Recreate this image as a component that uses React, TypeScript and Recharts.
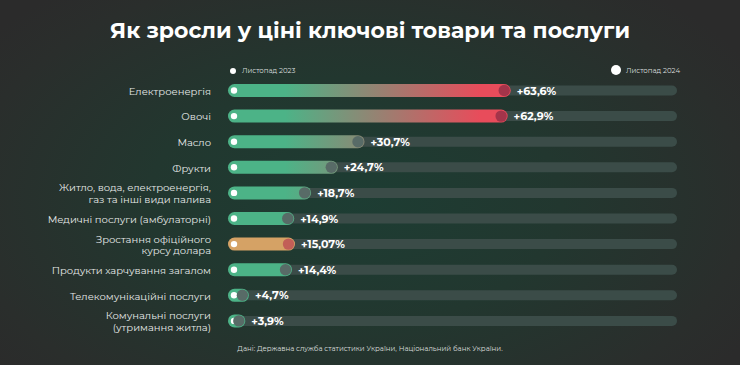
import React from "react";
import { BarChart, Bar, XAxis, YAxis, LabelList } from "recharts";

const categories = [
  "Електроенергія",
  "Овочі",
  "Масло",
  "Фрукти",
  "Житло, вода, електроенергія,\nгаз та інші види палива",
  "Медичні послуги (амбулаторні)",
  "Зростання офіційного\nкурсу долара",
  "Продукти харчування загалом",
  "Телекомунікаційні послуги",
  "Комунальні послуги\n(утримання житла)",
];

const growth = [63.6, 62.9, 30.7, 24.7, 18.7, 14.9, 15.07, 14.4, 4.7, 3.9];

const barKinds = ["heat", "heat", "heat", "heat", "heat", "heat", "usd", "heat", "heat", "heat"];

const legendLabels = ["Листопад 2023", "Листопад 2024"];

const title = "Як зросли у ціні ключові товари та послуги";
const source = "Дані: Державна служба статистики України, Національний банк України.";

const data = categories.map((name, i) => ({
  name,
  value: growth[i],
  kind: barKinds[i],
}));

const FONT = "Montserrat, 'Open Sans', 'Noto Sans', sans-serif";

const fmt = (v: number) => "+" + String(v).replace(".", ",") + "%";

function CategoryTick(props: any) {
  const { x, y, payload } = props;
  const lines = String(payload.value).split("\n");
  const lh = 11.5;
  const y0 = y - ((lines.length - 1) * lh) / 2;
  return (
    <text
      x={x - 9}
      y={y0}
      textAnchor="end"
      fill="#e6e9e8"
      fontSize={10}
      fontFamily={FONT}
      dominantBaseline="central"
    >
      {lines.map((l, i) => (
        <tspan key={i} x={x - 9} y={y0 + i * lh}>
          {l}
        </tspan>
      ))}
    </text>
  );
}

function TrackShape(props: any) {
  const { x, y, width, height } = props;
  const h = 10;
  const cy = y + height / 2;
  return <rect x={x} y={cy - h / 2} width={width} height={h} rx={h / 2} fill="#3b4c48" />;
}

function GrowthBar(props: any) {
  const { x, y, width, height, payload } = props;
  const usd = payload.kind === "usd";
  const cy = y + height / 2;
  const r = height / 2;
  const endX = x + width - r;
  const endFill = usd ? "#c25e57" : payload.value > 50 ? "#a3344a" : "#586b67";
  return (
    <g>
      <rect
        x={x}
        y={y}
        width={width}
        height={height}
        rx={r}
        fill={usd ? "#d5a265" : "url(#heatGrad)"}
      />
      <circle cx={x + 6} cy={cy} r={3.2} fill="#ffffff" />
      <circle cx={endX} cy={cy} r={r - 0.8} fill={endFill} />
    </g>
  );
}

function ValueLabel(props: any) {
  const { x, y, width, height, value } = props;
  return (
    <text
      x={x + width + 6}
      y={y + height / 2}
      fill="#ffffff"
      fontSize={11}
      fontWeight={700}
      fontFamily={FONT}
      dominantBaseline="central"
    >
      {fmt(value)}
    </text>
  );
}

export default function App() {
  return (
    <div
      style={{
        position: "relative",
        width: 740,
        height: 365,
        overflow: "hidden",
        fontFamily: FONT,
        background:
          "radial-gradient(ellipse 62% 75% at 48% 55%, #1d3d33 0%, #22372f 45%, #2a2e2c 85%, #2b2b2b 100%)",
      }}
    >
      <style>{`body{margin:0}`}</style>
      <div
        style={{
          position: "absolute",
          top: 17,
          left: 0,
          width: 740,
          textAlign: "center",
          color: "#ffffff",
          fontSize: 22,
          fontWeight: 700,
        }}
      >
        {title}
      </div>
      <div style={{ position: "absolute", left: 230, top: 66, display: "flex", alignItems: "center" }}>
        <span style={{ width: 6, height: 6, borderRadius: 3, background: "#fff", display: "inline-block" }} />
        <span style={{ color: "#d9dddc", fontSize: 7, marginLeft: 6 }}>{legendLabels[0]}</span>
      </div>
      <div style={{ position: "absolute", left: 611, top: 65, display: "flex", alignItems: "center" }}>
        <span style={{ width: 10, height: 10, borderRadius: 5, background: "#fff", display: "inline-block" }} />
        <span style={{ color: "#d9dddc", fontSize: 7, marginLeft: 5 }}>{legendLabels[1]}</span>
      </div>
      <div
        style={{
          position: "absolute",
          top: 344,
          left: 0,
          width: 740,
          textAlign: "center",
          color: "#d9dddc",
          fontSize: 7,
        }}
      >
        {source}
      </div>
      <div style={{ position: "absolute", top: 0, left: 0 }}>
        <BarChart
          width={740}
          height={365}
          data={data}
          layout="vertical"
          margin={{ top: 78, right: 63, bottom: 31, left: 0 }}
        >
          <defs>
            <linearGradient id="heatGrad" gradientUnits="userSpaceOnUse" x1={285} y1={0} x2={480} y2={0}>
              <stop offset="0%" stopColor="#4cb387" />
              <stop offset="100%" stopColor="#e84c5b" />
            </linearGradient>
          </defs>
          <XAxis type="number" domain={[0, 101]} hide />
          <YAxis
            type="category"
            dataKey="name"
            width={228}
            axisLine={false}
            tickLine={false}
            interval={0}
            tick={<CategoryTick />}
          />
          <Bar
            dataKey="value"
            barSize={13}
            isAnimationActive={false}
            background={<TrackShape />}
            shape={<GrowthBar />}
          >
            <LabelList dataKey="value" content={<ValueLabel />} />
          </Bar>
        </BarChart>
      </div>
    </div>
  );
}
